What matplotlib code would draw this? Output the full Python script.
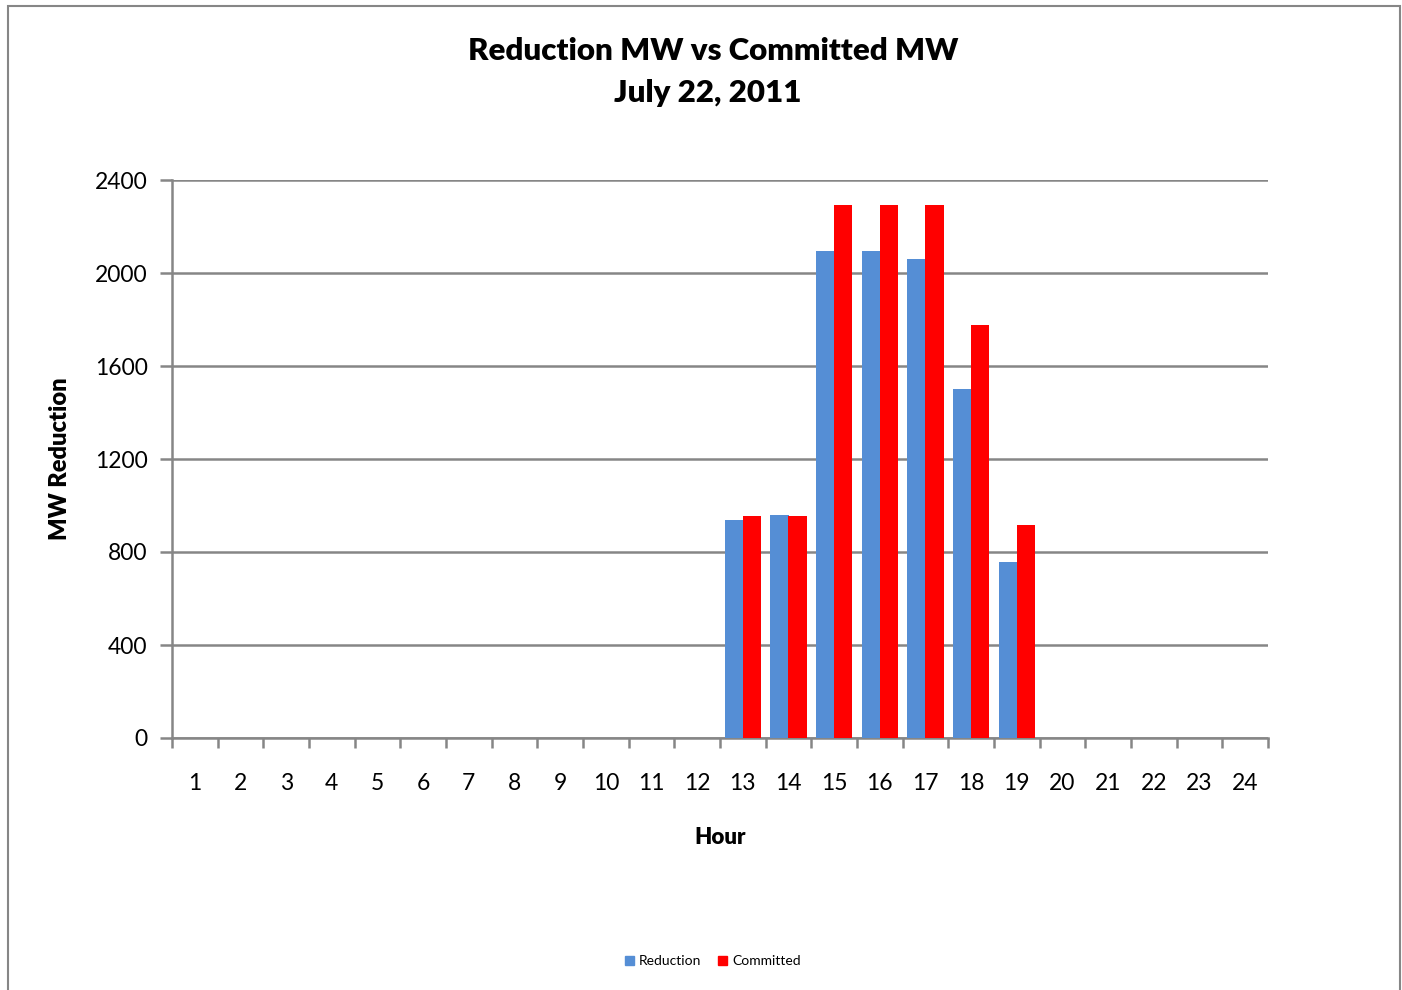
import numpy as np
import matplotlib.pyplot as plt
from matplotlib.patches import Rectangle, Patch

plt.rcParams['font.family'] = ['Lato', 'DejaVu Sans']

hours = list(range(1, 25))
reduction = [0]*12 + [937, 961, 2095, 2095, 2061, 1503, 757] + [0]*5
committed = [0]*12 + [954, 954, 2293, 2293, 2293, 1778, 918] + [0]*5

blue = '#558ED5'
red = '#FF0000'
gray = '#868686'

fig = plt.figure(figsize=(14.02, 9.90), dpi=100)
ax = fig.add_axes([172/1402, 1 - 738/990, 1096/1402, 558/990])

x = np.array(hours)
w = 0.4
ax.bar(x - w/2, reduction, width=w, color=blue, zorder=3)
ax.bar(x + w/2, committed, width=w, color=red, zorder=3)

ax.set_xlim(0.5, 24.5)
ax.set_ylim(0, 2400)
ax.set_yticks(np.arange(0, 2401, 400))
ax.yaxis.grid(True, color=gray, linewidth=1.8, zorder=0)
ax.set_axisbelow(True)

ax.set_xticks(x)
ax.set_xticklabels([str(h) for h in hours])
ax.set_xticks(np.arange(0.5, 25, 1), minor=True)
ax.tick_params(axis='x', which='major', length=0, pad=25, labelsize=16.5)
ax.tick_params(axis='x', which='minor', length=7, width=1.8, color=gray, direction='out')
ax.tick_params(axis='y', length=8.5, width=1.8, color=gray, labelsize=16.5, pad=9)

for s in ['top', 'right']:
    ax.spines[s].set_visible(False)
for s in ['left', 'bottom']:
    ax.spines[s].set_color(gray)
    ax.spines[s].set_linewidth(1.8)

ax.set_xlabel('Hour', fontsize=16, fontweight='heavy', labelpad=24)
ax.set_ylabel('MW Reduction', fontsize=17, fontweight='heavy', labelpad=17)

fig.text(0.509, 1 - 51/990, 'Reduction MW vs Committed MW', ha='center', va='center',
         fontsize=22.5, fontweight='heavy')
fig.text(0.505, 1 - 93/990, 'July 22, 2011', ha='center', va='center',
         fontsize=22.5, fontweight='heavy')

handles = [Patch(color=blue, label='Reduction'), Patch(color=red, label='Committed')]
fig.legend(handles=handles, loc='center', bbox_to_anchor=(713/1402, 1 - 961/990), ncol=2,
           frameon=False, fontsize=10, handlelength=0.6, handleheight=0.6,
           handletextpad=0.4, columnspacing=1.2)

fig.patches.append(Rectangle((8/1402, -0.05), 1392/1402, 1.05 - 6/990, transform=fig.transFigure,
                             fill=False, edgecolor=gray, linewidth=1.5))

fig.savefig('out.png', dpi=100)
